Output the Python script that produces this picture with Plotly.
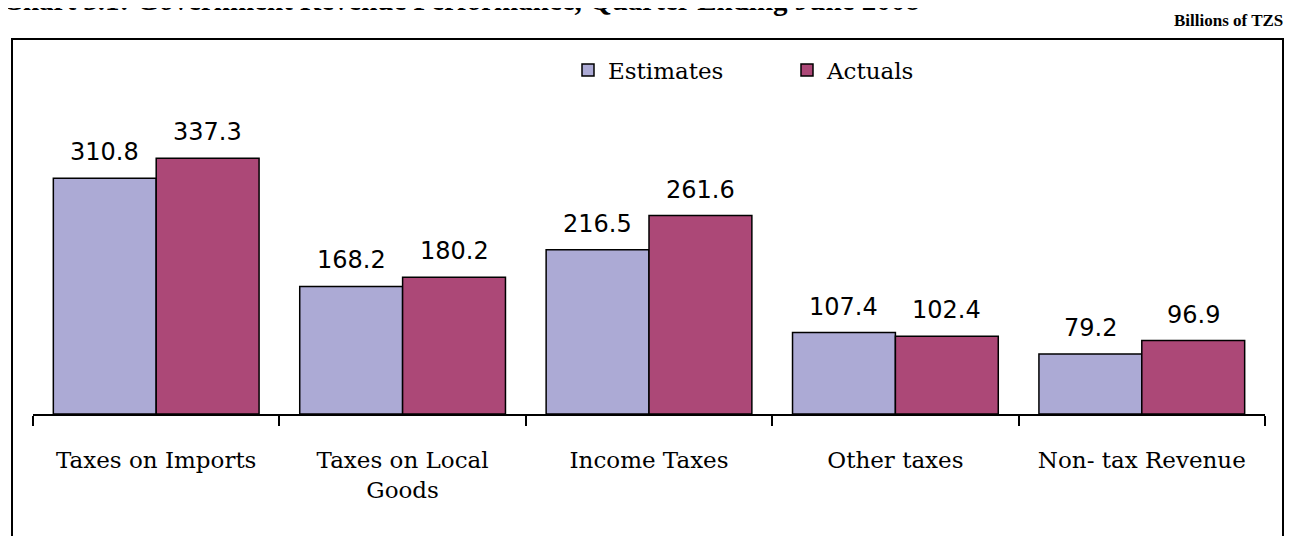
import plotly.graph_objects as go

categories = ["Taxes on Imports", "Taxes on Local<br>Goods", "Income Taxes", "Other taxes", "Non- tax Revenue"]
estimates = [310.8, 168.2, 216.5, 107.4, 79.2]
actuals = [337.3, 180.2, 261.6, 102.4, 96.9]

OFF = 8  # page body margin
W, H = 1294 - OFF, 536 - OFF
# desired page positions of the plot area
PL, PR, PT, PB = 33, 1265, 50, 414
L = PL - OFF
T = PT - OFF
R = W - (PR - OFF)
B = H - (PB - OFF)
pw = W - L - R
YMAX = 480

def px(X):
    return (X - PL) / (PR - PL)

def py(Y):
    return (PB - Y) / (PB - PT)

fig = go.Figure()
fig.add_trace(go.Bar(
    name="Estimates", x=categories, y=estimates,
    marker=dict(color="#ACAAD5", line=dict(color="black", width=1.5)),
))
fig.add_trace(go.Bar(
    name="Actuals", x=categories, y=actuals,
    marker=dict(color="#AC4877", line=dict(color="black", width=1.5)),
))

bargap = 0.165
cat_px = pw / len(categories)
bar_px = cat_px * (1 - bargap) / 2
for series, sign in ((estimates, -1), (actuals, 1)):
    for c, v in zip(categories, series):
        fig.add_annotation(x=c, y=v, xref="x", yref="y", text=f"{v:.1f}", showarrow=False,
                           xanchor="center", yanchor="bottom", xshift=sign * bar_px / 2, yshift=10,
                           font=dict(family="DejaVu Sans", size=24, color="black"))

fig.update_layout(
    width=W, height=H,
    margin=dict(l=L, r=R, t=T, b=B),
    paper_bgcolor="white", plot_bgcolor="white",
    barmode="group", bargap=bargap, bargroupgap=0,
    showlegend=True,
    legend=dict(orientation="h", x=px(568), y=py(70), yanchor="middle", xanchor="left",
                font=dict(family="DejaVu Serif", size=23, color="black"),
                entrywidth=174, entrywidthmode="pixels", traceorder="normal",
                bgcolor="rgba(0,0,0,0)"),
    xaxis=dict(showline=True, linecolor="black", linewidth=1.5, ticks="outside",
               tickson="boundaries", ticklen=10, tickwidth=1.5, tickcolor="black",
               tickfont=dict(family="DejaVu Serif", size=23, color="black"),
               ticklabelstandoff=25, showgrid=False),
    yaxis=dict(visible=False, range=[0, YMAX], showgrid=False, zeroline=False),
)

# chart border
fig.add_shape(type="rect", xref="paper", yref="paper",
              x0=px(12), x1=px(1283), y0=py(560), y1=py(39),
              line=dict(color="black", width=2), fillcolor="rgba(0,0,0,0)", layer="below")

fig.add_annotation(text="<b>Billions of TZS</b>", xref="paper", yref="paper",
                   x=px(1285), y=py(20), xanchor="right", yanchor="middle", showarrow=False,
                   font=dict(family="Liberation Serif", size=17, color="black"))

fig.add_annotation(text="<b>Chart 3.1: Government Revenue Performance, Quarter Ending June 2008</b>",
                   xref="paper", yref="paper", x=px(0), y=py(18), xanchor="left", yanchor="bottom",
                   showarrow=False, font=dict(family="Liberation Serif", size=29, color="black"))

fig.write_html("out.html")
